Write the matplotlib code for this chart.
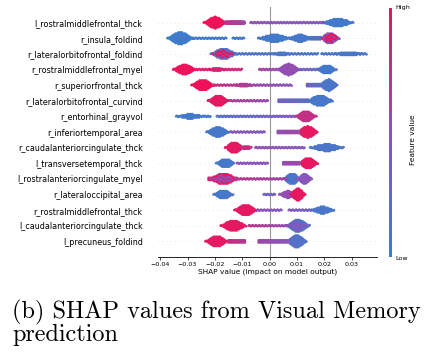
import matplotlib
matplotlib.use("Agg")
import matplotlib.pyplot as plt
import numpy as np
from matplotlib.colors import LinearSegmentedColormap

# feature names, top (most important) to bottom
features = [
    "l_rostralmiddlefrontal_thck",
    "r_insula_foldind",
    "r_lateralorbitofrontal_foldind",
    "r_rostralmiddlefrontal_myel",
    "r_superiorfrontal_thck",
    "r_lateralorbitofrontal_curvind",
    "r_entorhinal_grayvol",
    "r_inferiortemporal_area",
    "r_caudalanteriorcingulate_thck",
    "l_transversetemporal_thck",
    "l_rostralanteriorcingulate_myel",
    "r_lateraloccipital_area",
    "r_rostralmiddlefrontal_thck",
    "l_caudalanteriorcingulate_thck",
    "l_precuneus_foldind",
]

# dense clusters read off the swarm:
# (row, centre SHAP value, half width, half height in rows, feature value 0=low 1=high)
blobs = [
    (0, -0.0199, 0.0042, 0.38, 1.00),
    (0, -0.0125, 0.0035, 0.14, 0.70),
    (0, 0.0250, 0.0058, 0.26, 0.05),
    (1, -0.0327, 0.0047, 0.40, 0.03),
    (1, 0.0018, 0.0060, 0.25, 0.05),
    (1, 0.0112, 0.0042, 0.25, 0.08),
    (1, 0.0222, 0.0035, 0.36, 0.45),
    (2, -0.0168, 0.0047, 0.36, 0.20),
    (2, 0.0045, 0.0030, 0.11, 0.10),
    (2, 0.0290, 0.0052, 0.15, 0.08),
    (3, -0.0311, 0.0042, 0.34, 1.00),
    (3, -0.0193, 0.0030, 0.13, 0.85),
    (3, 0.0070, 0.0042, 0.38, 0.55),
    (3, 0.0210, 0.0037, 0.30, 0.05),
    (4, -0.0244, 0.0042, 0.36, 1.00),
    (4, -0.0095, 0.0030, 0.13, 0.70),
    (4, 0.0216, 0.0034, 0.38, 0.10),
    (5, -0.0187, 0.0039, 0.36, 0.95),
    (5, 0.0185, 0.0047, 0.34, 0.08),
    (6, -0.0290, 0.0052, 0.16, 0.05),
    (6, 0.0133, 0.0039, 0.36, 0.78),
    (7, -0.0189, 0.0042, 0.34, 0.08),
    (7, 0.0140, 0.0037, 0.38, 0.95),
    (8, -0.0128, 0.0035, 0.36, 0.95),
    (8, -0.0085, 0.0020, 0.13, 0.80),
    (8, 0.0210, 0.0062, 0.24, 0.10),
    (9, -0.0162, 0.0034, 0.30, 0.08),
    (9, 0.0143, 0.0035, 0.36, 0.95),
    (10, -0.0168, 0.0052, 0.36, 0.95),
    (10, 0.0082, 0.0032, 0.36, 0.10),
    (10, 0.0128, 0.0027, 0.33, 0.50),
    (11, -0.0168, 0.0037, 0.30, 0.08),
    (11, 0.0067, 0.0032, 0.24, 0.55),
    (11, 0.0104, 0.0027, 0.40, 0.95),
    (12, -0.0087, 0.0042, 0.36, 0.95),
    (12, 0.0194, 0.0042, 0.24, 0.10),
    (13, -0.0132, 0.0047, 0.36, 0.95),
    (13, 0.0104, 0.0044, 0.40, 0.15),
    (14, -0.0193, 0.0042, 0.36, 0.95),
    (14, 0.0100, 0.0037, 0.40, 0.15),
]

# thin runs of points between clusters:
# (row, SHAP from, SHAP to, half height in rows, feature value at start, at end)
runs = [
    (0, -0.0160, -0.0090, 0.09, 0.75, 0.60),
    (0, -0.0070, 0.0200, 0.06, 0.55, 0.45),
    (1, -0.0284, -0.0156, 0.06, 0.03, 0.05),
    (1, -0.0135, -0.0091, 0.06, 0.05, 0.05),
    (1, 0.0150, 0.0190, 0.09, 0.10, 0.20),
    (2, -0.0126, 0.0179, 0.06, 0.12, 0.10),
    (2, 0.0190, 0.0356, 0.06, 0.10, 0.08),
    (3, -0.0272, -0.0101, 0.06, 0.90, 0.80),
    (3, -0.0038, 0.0039, 0.06, 0.65, 0.55),
    (3, 0.0110, 0.0180, 0.06, 0.40, 0.25),
    (4, -0.0205, -0.0060, 0.06, 0.80, 0.65),
    (4, -0.0060, 0.0082, 0.06, 0.60, 0.50),
    (4, 0.0137, 0.0185, 0.12, 0.35, 0.20),
    (5, -0.0144, -0.0004, 0.06, 0.70, 0.55),
    (5, 0.0033, 0.0143, 0.08, 0.35, 0.20),
    (6, -0.0240, -0.0215, 0.06, 0.05, 0.05),
    (6, -0.0193, 0.0094, 0.06, 0.15, 0.45),
    (7, -0.0144, -0.0016, 0.06, 0.50, 0.45),
    (7, 0.0030, 0.0110, 0.08, 0.55, 0.60),
    (8, -0.0052, 0.0130, 0.06, 0.55, 0.45),
    (9, -0.0120, -0.0004, 0.06, 0.50, 0.50),
    (9, 0.0050, 0.0110, 0.08, 0.55, 0.60),
    (10, -0.0223, -0.0120, 0.10, 0.90, 0.85),
    (10, -0.0120, 0.0063, 0.06, 0.75, 0.60),
    (11, -0.0022, 0.0020, 0.06, 0.35, 0.35),
    (12, -0.0046, 0.0045, 0.06, 0.55, 0.45),
    (12, 0.0070, 0.0155, 0.06, 0.45, 0.35),
    (13, -0.0077, 0.0070, 0.06, 0.75, 0.55),
    (14, -0.0150, -0.0090, 0.10, 0.80, 0.70),
    (14, -0.0040, 0.0070, 0.08, 0.60, 0.50),
]

# odd points of the other colour sitting inside some clusters
speckles = [
    (1, 0.0222, 0.0030, 0.30, 1.00),
    (2, -0.0168, 0.0040, 0.30, 1.00),
    (10, -0.0168, 0.0047, 0.30, 0.55),
    (13, 0.0104, 0.0037, 0.33, 0.50),
]

x_ticks = [-0.04, -0.03, -0.02, -0.01, 0.00, 0.01, 0.02, 0.03]

cmap = LinearSegmentedColormap.from_list("red_blue", ["#3a7dcc", "#8a55bc", "#f01258"])

DX = 0.0003
DY = 0.075
n_rows = len(features)


def column_points(x0, y0, half, i):
    n = int(max(half, 0) / DY)
    if n == 0:
        # single file of points, nudged up/down a little like a swarm
        return [(x0, y0 + (0, DY / 2, 0, -DY / 2)[i % 4])]
    offs = np.arange(-n, n + 1) * DY
    if i % 2:
        offs = offs[:-1] + DY / 2
    return [(x0, y0 + o) for o in offs]


def lens(hh, c, hw, x):
    t = min(abs(x - c) / hw, 1.0)
    return hh * (1 - t * t) ** 1.5


fig = plt.figure(figsize=(4.30, 3.52), dpi=100)
ax = fig.add_axes([158 / 430, 1 - 257 / 352, 219 / 430, 250 / 352])

px, py, pc = [], [], []
for row, c, hw, hh, val in blobs:
    y0 = n_rows - 1 - row
    for i, x in enumerate(np.arange(c - hw, c + hw + 1e-9, DX)):
        for p in column_points(x, y0, lens(hh, c, hw, x), i):
            px.append(p[0]); py.append(p[1]); pc.append(val)
for row, lo, hi, hh, v0, v1 in runs:
    y0 = n_rows - 1 - row
    for i, x in enumerate(np.arange(lo, hi + 1e-9, DX)):
        f = (x - lo) / (hi - lo)
        for p in column_points(x, y0, hh, i):
            px.append(p[0]); py.append(p[1]); pc.append(v0 + (v1 - v0) * f)

ax.scatter(px, py, c=pc, cmap=cmap, vmin=0, vmax=1, s=3.2, linewidths=0, zorder=3)

sx, sy, sc = [], [], []
for row, c, hw, hh, val in speckles:
    y0 = n_rows - 1 - row
    for i, x in enumerate(np.arange(c - hw, c + hw + 1e-9, DX * 2)):
        pts = column_points(x, y0, lens(hh, c, hw, x), i)
        for k, p in enumerate(pts):
            if (k + i) % 3 == 0:
                sx.append(p[0]); sy.append(p[1]); sc.append(val)
ax.scatter(sx, sy, c=sc, cmap=cmap, vmin=0, vmax=1, s=3.2, linewidths=0, zorder=4)

for y in range(n_rows):
    ax.axhline(y, color="#cccccc", lw=0.5, dashes=(1, 5), zorder=-1)
ax.axvline(0, color="#999999", lw=0.8, zorder=-1)

ax.set_xlim(-0.0408, 0.0393)
ax.set_ylim(-1, n_rows)
ax.set_yticks(range(n_rows))
ax.set_yticklabels(features[::-1], fontsize=5.8)
ax.tick_params("y", length=0, pad=11)
ax.set_xticks(x_ticks)
ax.set_xticklabels([f"{t:.2f}".replace("-", "\u2212") for t in x_ticks], fontsize=4.6)
ax.tick_params("x", length=2, width=0.5, pad=1.5)
for s in ["top", "right", "left"]:
    ax.spines[s].set_visible(False)
ax.spines["bottom"].set_linewidth(0.6)
ax.set_xlabel("SHAP value (impact on model output)", fontsize=5.3, labelpad=1.5)

# colour bar
cax = fig.add_axes([389 / 430, 1 - 257 / 352, 2.5 / 430, 249 / 352])
cax.imshow(np.linspace(1, 0, 256)[:, None], aspect="auto", cmap=cmap,
           extent=[0, 1, 0, 1])
cax.set_axis_off()
fig.text(395 / 430, 1 - 7 / 352, "High", fontsize=4.6, va="center", ha="left")
fig.text(395 / 430, 1 - 258 / 352, "Low", fontsize=4.6, va="center", ha="left")
fig.text(413 / 430, 1 - 140 / 352, "Feature value", fontsize=5.3, rotation=90,
         va="center", ha="center")

# caption
fig.text(12 / 430, 1 - 318 / 352, "(b) SHAP values from Visual Memory",
         family="cmr10", fontsize=17.5, va="baseline", ha="left")
fig.text(12 / 430, 1 - 341 / 352, "prediction",
         family="cmr10", fontsize=17.5, va="baseline", ha="left")

fig.savefig("out.png", dpi=100)
